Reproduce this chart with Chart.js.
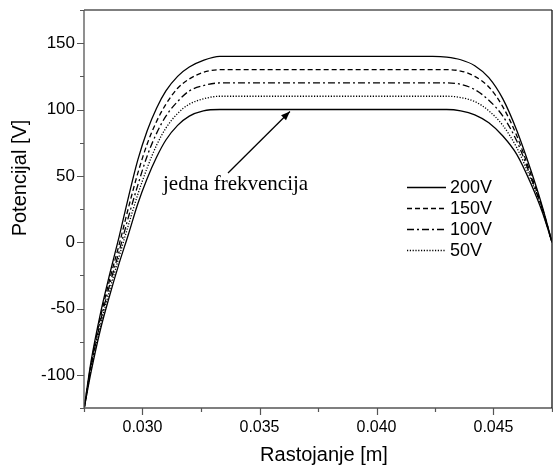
<!DOCTYPE html>
<html>
<head>
<meta charset="utf-8">
<script src="https://cdn.jsdelivr.net/npm/chart.js@4/dist/chart.umd.min.js"></script>
<style>
  html, body { margin: 0; padding: 0; background: #ffffff; }
  #wrap { position: relative; width: 553px; height: 468px; }
</style>
</head>
<body>
<div id="wrap"><canvas id="c" width="553" height="468"></canvas></div>
<script>
// ---- data ----
const xValues = [0.0275, 0.0278, 0.0282, 0.0286, 0.0290, 0.0294, 0.0298, 0.0302, 0.0306, 0.0310, 0.0315, 0.0320, 0.0326, 0.0333, 0.0340, 0.0400, 0.0418, 0.0424, 0.0430, 0.0436, 0.0442, 0.0448, 0.0454, 0.0460, 0.0466, 0.0471, 0.0475];
const v200 = [-126, -90, -54, -24, 4, 34, 62, 84, 101, 114, 125, 132, 137, 140, 140, 140, 140, 140, 139.5, 137.5, 133, 124, 108, 84, 54, 26, 0];
const v150 = [-126, -92, -57, -28, -2, 26, 52, 74, 91, 104, 116, 123, 128, 130, 130, 130, 130, 130, 130, 129, 125, 117, 102, 80, 51, 25, 0];
const v100 = [-126, -94, -60, -32, -7, 19, 43, 65, 82, 95, 106, 114, 118, 120, 120, 120, 120, 120, 120, 119, 115, 107, 95, 76, 49, 24, 0];
const v50 = [-126, -96, -63, -36, -11, 13, 36, 56, 73, 86, 97, 104, 108, 110, 110, 110, 110, 110, 110, 109, 106, 99, 88, 71, 47, 23, 0];
const vSingle = [-126, -98, -66, -40, -16, 6, 29, 48, 64, 77, 88, 95, 99, 100, 100, 100, 100, 100, 100, 99, 96, 90, 80, 66, 44, 22, 0];
const seriesLabels = ['200V', '150V', '100V', '50V'];
const annotationLabel = 'jedna frekvencija';
const xTickValues = [0.030, 0.035, 0.040, 0.045];
const xMinorTickValues = [0.0275, 0.0325, 0.0375, 0.0425, 0.0475];
const yTickValues = [-100, -50, 0, 50, 100, 150];
const yMinorTickValues = [-125, -75, -25, 25, 75, 125, 175];
const xTitle = 'Rastojanje [m]';
const yTitle = 'Potencijal [V]';
const annotationTarget = { x: 0.0363, y: 100 };

// ---- styles ----
const dashes = [[], [5, 3], [7, 3, 2, 3], [1.2, 1.6], []];
const toPts = arr => xValues.map((x, i) => ({ x: x, y: arr[i] }));
const allSeries = [v200, v150, v100, v50, vSingle];
const names = [...seriesLabels, annotationLabel];

const datasets = allSeries.map((arr, i) => ({
  label: names[i],
  data: toPts(arr),
  borderColor: '#000',
  borderWidth: 1.3,
  borderDash: dashes[i],
  pointRadius: 0,
  fill: false,
  cubicInterpolationMode: 'monotone'
}));

const axisColor = '#555';

const decor = {
  id: 'decor',
  afterDraw(chart) {
    const ctx = chart.ctx;
    const a = chart.chartArea;
    const xs = chart.scales.x, ys = chart.scales.y;
    ctx.save();
    // frame
    ctx.lineWidth = 1.3;
    ctx.strokeStyle = axisColor;
    ctx.beginPath();
    ctx.moveTo(a.left, a.top); ctx.lineTo(a.right, a.top);
    ctx.moveTo(a.left, a.top); ctx.lineTo(a.left, a.bottom);
    ctx.moveTo(a.left, a.bottom); ctx.lineTo(a.right, a.bottom);
    ctx.stroke();
    ctx.strokeStyle = '#111';
    ctx.beginPath();
    ctx.moveTo(a.right, a.top); ctx.lineTo(a.right, a.bottom);
    ctx.stroke();
    // ticks
    ctx.strokeStyle = axisColor;
    ctx.lineWidth = 1.2;
    ctx.beginPath();
    yTickValues.forEach(v => { const p = Math.round(ys.getPixelForValue(v)) + 0.5; ctx.moveTo(a.left, p); ctx.lineTo(a.left - 7, p); });
    yMinorTickValues.forEach(v => { const p = Math.round(ys.getPixelForValue(v)) + 0.5; ctx.moveTo(a.left, p); ctx.lineTo(a.left - 4, p); });
    xTickValues.forEach(v => { const p = Math.round(xs.getPixelForValue(v)) + 0.5; ctx.moveTo(p, a.bottom); ctx.lineTo(p, a.bottom + 7); });
    xMinorTickValues.forEach(v => { const p = Math.round(xs.getPixelForValue(v)) + 0.5; ctx.moveTo(p, a.bottom); ctx.lineTo(p, a.bottom + 4); });
    ctx.stroke();

    // axis titles
    ctx.fillStyle = '#000';
    ctx.font = '20px "Liberation Sans", Arial, sans-serif';
    ctx.textAlign = 'center';
    ctx.textBaseline = 'middle';
    ctx.fillText(xTitle, 324, 455);
    ctx.save();
    ctx.translate(20, 178);
    ctx.rotate(-Math.PI / 2);
    ctx.fillText(yTitle, 0, 0);
    ctx.restore();

    // legend
    const lx0 = 407, lx1 = 446, rows = [187, 208, 229, 250];
    ctx.font = '18px "Liberation Sans", Arial, sans-serif';
    ctx.textAlign = 'left';
    seriesLabels.forEach((lab, i) => {
      ctx.save();
      ctx.strokeStyle = '#000';
      ctx.lineWidth = 1.3;
      ctx.setLineDash(dashes[i]);
      ctx.beginPath();
      ctx.moveTo(lx0, rows[i] + 0.5);
      ctx.lineTo(lx1, rows[i] + 0.5);
      ctx.stroke();
      ctx.restore();
      ctx.fillText(lab, 450, rows[i] + 1);
    });

    // annotation
    ctx.font = '21px "Liberation Serif", "Times New Roman", serif';
    ctx.textAlign = 'left';
    ctx.textBaseline = 'alphabetic';
    ctx.fillText(annotationLabel, 163, 190);
    const tx = xs.getPixelForValue(annotationTarget.x);
    const ty = ys.getPixelForValue(annotationTarget.y) + 2;
    const sx = 228, sy = 173;
    ctx.strokeStyle = '#000';
    ctx.lineWidth = 1.3;
    ctx.beginPath();
    ctx.moveTo(sx, sy);
    ctx.lineTo(tx, ty);
    ctx.stroke();
    const ang = Math.atan2(ty - sy, tx - sx);
    const hl = 9, hw = 3.5;
    ctx.beginPath();
    ctx.moveTo(tx, ty);
    ctx.lineTo(tx - hl * Math.cos(ang) + hw * Math.sin(ang), ty - hl * Math.sin(ang) - hw * Math.cos(ang));
    ctx.lineTo(tx - hl * Math.cos(ang) - hw * Math.sin(ang), ty - hl * Math.sin(ang) + hw * Math.cos(ang));
    ctx.closePath();
    ctx.fillStyle = '#000';
    ctx.fill();
    ctx.restore();
  }
};

new Chart(document.getElementById('c'), {
  type: 'line',
  data: { datasets },
  options: {
    responsive: false,
    animation: false,
    devicePixelRatio: 1,
    layout: { padding: { top: 10, right: 1, left: 0, bottom: 0 } },
    plugins: { legend: { display: false }, tooltip: { enabled: false } },
    scales: {
      x: {
        type: 'linear',
        min: 0.0275, max: 0.0475,
        border: { display: false },
        grid: { display: false, drawTicks: false },
        afterBuildTicks: s => { s.ticks = xTickValues.map(v => ({ value: v })); },
        afterFit: s => { s.height = 60; s.paddingLeft = 0; s.paddingRight = 0; },
        ticks: {
          color: '#000',
          padding: 10,
          maxRotation: 0,
          font: { family: '"Liberation Sans", Arial, sans-serif', size: 16 },
          callback: v => v.toFixed(3)
        }
      },
      y: {
        type: 'linear',
        min: -125, max: 175,
        border: { display: false },
        grid: { display: false, drawTicks: false },
        afterBuildTicks: s => { s.ticks = yTickValues.map(v => ({ value: v })); },
        afterFit: s => { s.width = 84; s.paddingTop = 0; s.paddingBottom = 0; },
        ticks: {
          color: '#000',
          padding: 9,
          font: { family: '"Liberation Sans", Arial, sans-serif', size: 17 },
          callback: v => String(v)
        }
      }
    }
  },
  plugins: [decor]
});
</script>
</body>
</html>
